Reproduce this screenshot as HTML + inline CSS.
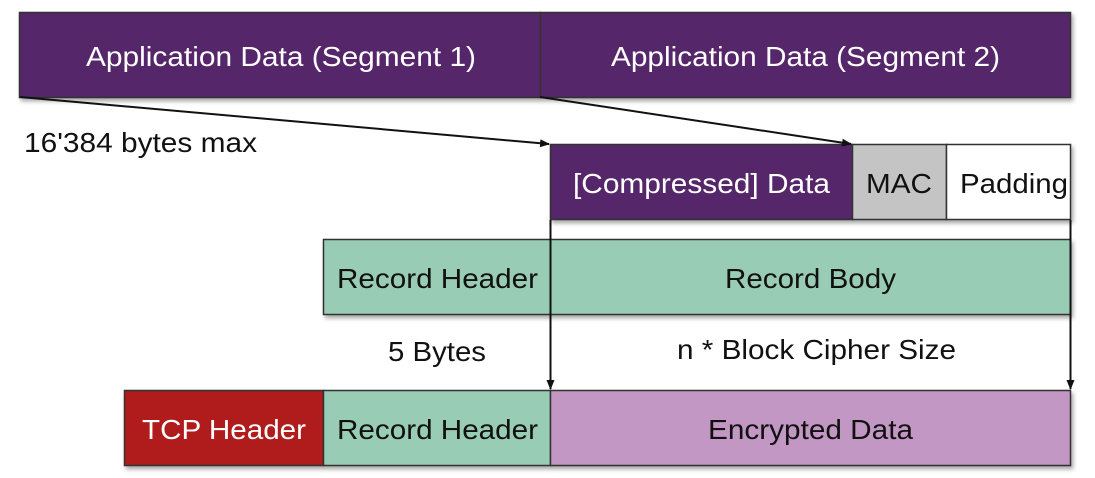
<!DOCTYPE html>
<html><head><meta charset="utf-8"><style>
html,body{margin:0;padding:0;background:#fff;}
svg{display:block;}
text{font-family:"Liberation Sans",sans-serif;}
</style></head><body>
<svg width="1095" height="478" viewBox="0 0 1095 478" xmlns="http://www.w3.org/2000/svg">
<defs>
<filter id="sh" x="-5%" y="-5%" width="110%" height="130%"><feDropShadow dx="2" dy="3" stdDeviation="2" flood-color="#000" flood-opacity="0.35"/></filter>
<marker id="ah" markerWidth="10" markerHeight="8" refX="9" refY="4" orient="auto" markerUnits="userSpaceOnUse"><path d="M0,0 L10,4 L0,8 z" fill="#111"/></marker>
</defs>
<g stroke="#333" stroke-width="1.5" filter="url(#sh)">
<rect x="19.5" y="12.5" width="521" height="85" fill="#55266b"/>
<rect x="540.5" y="12.5" width="530" height="85" fill="#55266b"/>
<rect x="550.5" y="144.5" width="302" height="75" fill="#55266b"/>
<rect x="852.5" y="144.5" width="94" height="75" fill="#c4c4c4"/>
<rect x="946.5" y="144.5" width="124" height="75" fill="#fff"/>
<rect x="323.5" y="239.5" width="227" height="75" fill="#99ccb4"/>
<rect x="550.5" y="239.5" width="520" height="75" fill="#99ccb4"/>
<rect x="124.5" y="390.5" width="199" height="75" fill="#b01c1c"/>
<rect x="323.5" y="390.5" width="227" height="75" fill="#99ccb4"/>
<rect x="550.5" y="390.5" width="520" height="75" fill="#c397c4"/>
</g>
<g stroke="#111" stroke-width="2" fill="none">
<line x1="20" y1="97" x2="549" y2="144" marker-end="url(#ah)"/>
<line x1="540" y1="97" x2="851" y2="144" marker-end="url(#ah)"/>
<line x1="550.5" y1="220" x2="550.5" y2="389" marker-end="url(#ah)"/>
<line x1="1070.5" y1="220" x2="1070.5" y2="389" marker-end="url(#ah)"/>
</g>
<g font-size="28" lengthAdjust="spacingAndGlyphs">
<text x="86" y="66" fill="#fff" textLength="390" lengthAdjust="spacingAndGlyphs">Application Data (Segment 1)</text>
<text x="611" y="66" fill="#fff" textLength="389" lengthAdjust="spacingAndGlyphs">Application Data (Segment 2)</text>
<text x="573" y="193" fill="#fff" textLength="257" lengthAdjust="spacingAndGlyphs">[Compressed] Data</text>
<text x="866" y="193" fill="#111" textLength="66" lengthAdjust="spacingAndGlyphs">MAC</text>
<text x="960" y="193" fill="#111" textLength="108" lengthAdjust="spacingAndGlyphs">Padding</text>
<text x="337" y="288" fill="#111" textLength="201" lengthAdjust="spacingAndGlyphs">Record Header</text>
<text x="725" y="288" fill="#111" textLength="171" lengthAdjust="spacingAndGlyphs">Record Body</text>
<text x="388" y="361" fill="#111" textLength="98" lengthAdjust="spacingAndGlyphs">5 Bytes</text>
<text x="677" y="359" fill="#111" textLength="279" lengthAdjust="spacingAndGlyphs">n * Block Cipher Size</text>
<text x="142" y="439" fill="#fff" textLength="164" lengthAdjust="spacingAndGlyphs">TCP Header</text>
<text x="337" y="439" fill="#111" textLength="201" lengthAdjust="spacingAndGlyphs">Record Header</text>
<text x="708" y="439" fill="#111" textLength="205" lengthAdjust="spacingAndGlyphs">Encrypted Data</text>
<text x="24" y="152" fill="#111" textLength="233" lengthAdjust="spacingAndGlyphs">16'384 bytes max</text>
</g>
</svg>
</body></html>
